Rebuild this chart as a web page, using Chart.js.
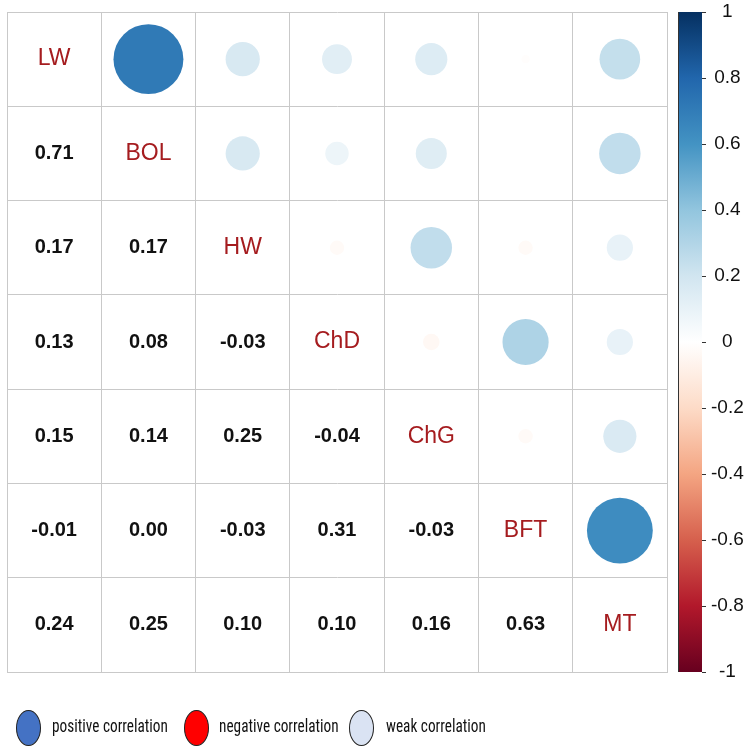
<!DOCTYPE html>
<html lang="en">
<head>
    <meta charset="UTF-8">
    <title>Correlation matrix</title>
    <script src="https://cdn.jsdelivr.net/npm/chart.js"></script>
    <style>
        body { margin: 0; background: #fff; }
        .wrap { position: relative; width: 750px; height: 753px; }
        .legend {
            position: absolute;
            left: 0;
            top: 708px;
            width: 750px;
            height: 40px;
            font-family: "Liberation Sans Narrow", "Roboto Condensed", Roboto, sans-serif;
            font-size: 18px;
            color: #111;
        }
        .legend .dot {
            position: absolute;
            top: 2px;
            width: 23px;
            height: 34px;
            border: 1px solid #222;
            border-radius: 50%;
        }
        .legend .txt {
            position: absolute;
            top: 7px;
            white-space: nowrap;
            transform: scaleX(0.85);
            transform-origin: left center;
        }
    </style>
</head>
<body>
    <div class="wrap">
        <canvas id="corrChart" width="750" height="753"></canvas>
        <div class="legend">
            <span class="dot" style="left:16px; background:#4472c4;"></span>
            <span class="txt" style="left:52px;">positive correlation</span>
            <span class="dot" style="left:184px; background:#ff0000;"></span>
            <span class="txt" style="left:219px;">negative correlation</span>
            <span class="dot" style="left:349px; background:#dae3f3;"></span>
            <span class="txt" style="left:386px;">weak correlation</span>
        </div>
    </div>

    <script>
        const varNames = ['LW', 'BOL', 'HW', 'ChD', 'ChG', 'BFT', 'MT'];

        // correlation rows (symmetric matrix)
        const rowLW  = [1.00, 0.71, 0.17, 0.13, 0.15, -0.01, 0.24];
        const rowBOL = [0.71, 1.00, 0.17, 0.08, 0.14, 0.00, 0.25];
        const rowHW  = [0.17, 0.17, 1.00, -0.03, 0.25, -0.03, 0.10];
        const rowChD = [0.13, 0.08, -0.03, 1.00, -0.04, 0.31, 0.10];
        const rowChG = [0.15, 0.14, 0.25, -0.04, 1.00, -0.03, 0.16];
        const rowBFT = [-0.01, 0.00, -0.03, 0.31, -0.03, 1.00, 0.63];
        const rowMT  = [0.24, 0.25, 0.10, 0.10, 0.16, 0.63, 1.00];
        const corr = [rowLW, rowBOL, rowHW, rowChD, rowChG, rowBFT, rowMT];

        const barTicks = [-1, -0.8, -0.6, -0.4, -0.2, 0, 0.2, 0.4, 0.6, 0.8, 1];

        // RdBu palette from -1 to 1
        const rdbu = ['#67001F', '#B2182B', '#D6604D', '#F4A582', '#FDDBC7', '#FFFFFF',
                      '#D1E5F0', '#92C5DE', '#4393C3', '#2166AC', '#053061'];

        function hexToRgb(h) {
            return [parseInt(h.substr(1, 2), 16), parseInt(h.substr(3, 2), 16), parseInt(h.substr(5, 2), 16)];
        }
        function colorFor(v) {
            const pos = (v + 1) / 2 * (rdbu.length - 1);
            const i = Math.min(Math.floor(pos), rdbu.length - 2);
            const t = pos - i;
            const a = hexToRgb(rdbu[i]), b = hexToRgb(rdbu[i + 1]);
            const c = a.map((x, k) => Math.round(x + (b[k] - x) * t));
            return 'rgb(' + c.join(',') + ')';
        }

        // upper triangle circles
        const points = [];
        for (let i = 0; i < varNames.length; i++) {
            for (let j = i + 1; j < varNames.length; j++) {
                points.push({ x: j + 0.5, y: i + 0.5, v: corr[i][j] });
            }
        }

        const gridColor = '#c9c9c9';

        const cellText = {
            id: 'cellText',
            afterDatasetsDraw(chart) {
                const ctx = chart.ctx;
                const xs = chart.scales.x, ys = chart.scales.y;
                ctx.save();
                ctx.textAlign = 'center';
                ctx.textBaseline = 'middle';
                for (let i = 0; i < varNames.length; i++) {
                    for (let j = 0; j <= i; j++) {
                        const px = xs.getPixelForValue(j + 0.5);
                        const py = ys.getPixelForValue(i + 0.5);
                        if (i === j) {
                            ctx.font = '23px "Liberation Sans", Arial, sans-serif';
                            ctx.fillStyle = '#a51c1f';
                            ctx.fillText(varNames[i], px, py);
                        } else {
                            ctx.font = 'bold 20px "Liberation Sans", Arial, sans-serif';
                            ctx.fillStyle = '#111';
                            ctx.fillText(corr[i][j].toFixed(2), px, py);
                        }
                    }
                }
                ctx.restore();
            }
        };

        const colorBar = {
            id: 'colorBar',
            afterDraw(chart) {
                const ctx = chart.ctx;
                const bs = chart.scales.bar;
                const x0 = chart.chartArea.right + 11;
                const w = 24;
                const top = bs.getPixelForValue(1);
                const bottom = bs.getPixelForValue(-1);
                const grad = ctx.createLinearGradient(0, bottom, 0, top);
                rdbu.forEach((c, k) => grad.addColorStop(k / (rdbu.length - 1), c));
                ctx.save();
                ctx.fillStyle = grad;
                ctx.fillRect(x0, top, w, bottom - top);
                ctx.strokeStyle = '#333';
                ctx.lineWidth = 1;
                ctx.beginPath();
                ctx.moveTo(x0 + 0.5, top);
                ctx.lineTo(x0 + 0.5, bottom);
                ctx.stroke();
                ctx.beginPath();
                barTicks.forEach(t => {
                    const py = Math.round(bs.getPixelForValue(t)) + 0.5;
                    ctx.moveTo(x0 + w, py);
                    ctx.lineTo(x0 + w + 4, py);
                });
                ctx.stroke();
                ctx.restore();
            }
        };

        function circleRadius(ctx) {
            if (!ctx.raw) return 0;
            const xs = ctx.chart.scales.x;
            const cell = xs.getPixelForValue(1) - xs.getPixelForValue(0);
            const r = 0.44 * cell * Math.sqrt(Math.abs(ctx.raw.v));
            return isFinite(r) ? r : 0;
        }

        new Chart(document.getElementById('corrChart'), {
            type: 'scatter',
            data: {
                datasets: [{
                    data: points,
                    pointBorderWidth: 0,
                    pointBackgroundColor: ctx => ctx.raw ? colorFor(ctx.raw.v) : '#fff',
                    pointRadius: circleRadius,
                    pointHoverRadius: circleRadius
                }]
            },
            options: {
                responsive: false,
                animation: false,
                events: [],
                layout: { autoPadding: false, padding: { left: 7, top: 12, bottom: 81, right: 0 } },
                plugins: { legend: { display: false }, tooltip: { enabled: false } },
                scales: {
                    x: {
                        type: 'linear', min: 0, max: 7,
                        ticks: { display: false, stepSize: 1 },
                        grid: { color: gridColor, drawTicks: false },
                        border: { color: gridColor },
                        afterFit: s => { s.height = 0; }
                    },
                    y: {
                        type: 'linear', min: 0, max: 7, reverse: true,
                        ticks: { display: false, stepSize: 1 },
                        grid: { color: gridColor, drawTicks: false },
                        border: { color: gridColor },
                        afterFit: s => { s.width = 0; }
                    },
                    bar: {
                        type: 'linear', position: 'right', min: -1, max: 1,
                        afterBuildTicks: s => { s.ticks = barTicks.map(v => ({ value: v })); },
                        ticks: {
                            crossAlign: 'center',
                            padding: 44,
                            color: '#111',
                            font: { family: '"Liberation Sans", Arial, sans-serif', size: 19 },
                            callback: v => String(+v.toFixed(1))
                        },
                        grid: { drawOnChartArea: false, drawTicks: false },
                        border: { display: false },
                        afterFit: s => { s.width = 83; s.paddingTop = 0; s.paddingBottom = 0; }
                    }
                }
            },
            plugins: [cellText, colorBar]
        });
    </script>
</body>
</html>
